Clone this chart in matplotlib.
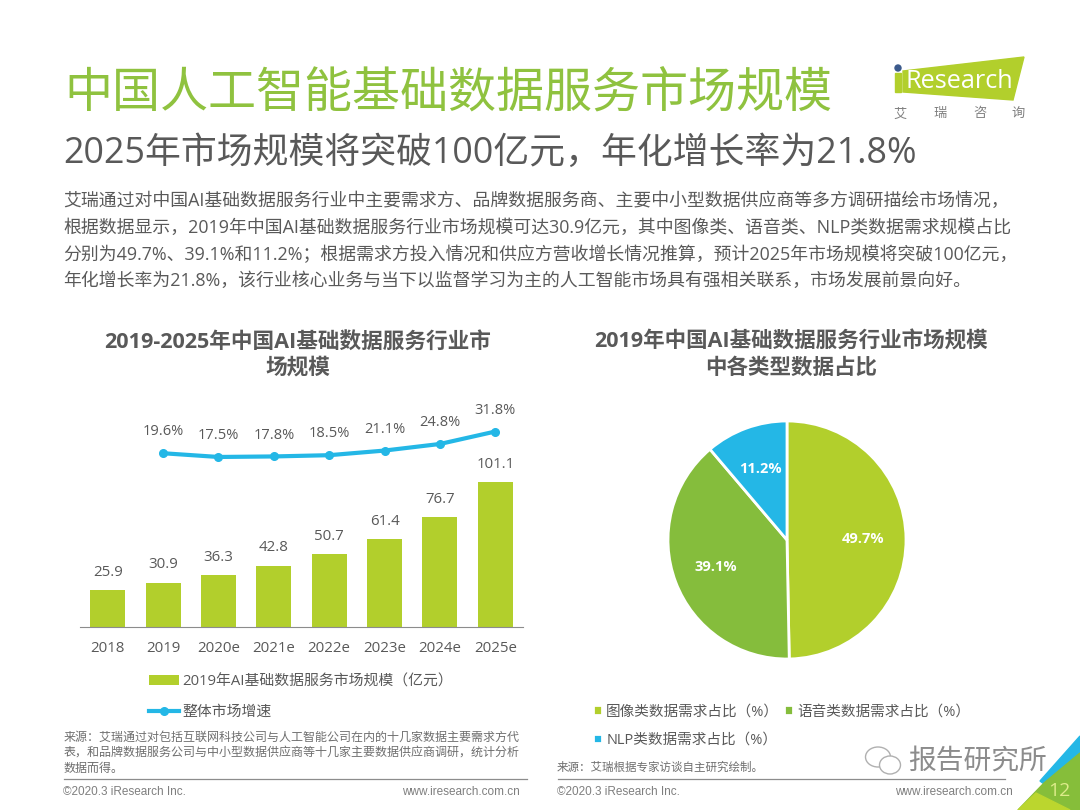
import matplotlib
matplotlib.use('Agg')
import matplotlib.pyplot as plt
from matplotlib.patches import Polygon, Ellipse, Rectangle

plt.rcParams['font.family'] = ['Open Sans', 'Noto Sans CJK SC', 'DejaVu Sans']

W, H = 1080, 810

# --- Data ---
years = ['2018', '2019', '2020e', '2021e', '2022e', '2023e', '2024e', '2025e']
market_size = [25.9, 30.9, 36.3, 42.8, 50.7, 61.4, 76.7, 101.1]
growth_years = years[1:]
growth_rate = [19.6, 17.5, 17.8, 18.5, 21.1, 24.8, 31.8]

share_labels = ['图像类数据需求占比（%）', '语音类数据需求占比（%）', 'NLP类数据需求占比（%）']
share_values = [49.7, 39.1, 11.2]

title = '中国人工智能基础数据服务市场规模'
subtitle = '2025年市场规模将突破100亿元，年化增长率为21.8%'
body_lines = [
    '艾瑞通过对中国AI基础数据服务行业中主要需求方、品牌数据服务商、主要中小型数据供应商等多方调研描绘市场情况，',
    '根据数据显示，2019年中国AI基础数据服务行业市场规模可达30.9亿元，其中图像类、语音类、NLP类数据需求规模占比',
    '分别为49.7%、39.1%和11.2%；根据需求方投入情况和供应方营收增长情况推算，预计2025年市场规模将突破100亿元，',
    '年化增长率为21.8%，该行业核心业务与当下以监督学习为主的人工智能市场具有强相关联系，市场发展前景向好。',
]
source_left = [
    '来源：艾瑞通过对包括互联网科技公司与人工智能公司在内的十几家数据主要需求方代',
    '表，和品牌数据服务公司与中小型数据供应商等十几家主要数据供应商调研，统计分析',
    '数据而得。',
]
source_right = '来源：艾瑞根据专家访谈自主研究绘制。'

GREEN = '#B2CF2C'
TITLE_GREEN = '#8FC23F'
DARK_GREEN = '#85BD3C'
BLUE = '#24B7E6'
TEXT = '#595959'
FOOT = ['Liberation Sans', 'Noto Sans CJK SC']


def px_axes(fig, left, top, right, bottom):
    # axes placed by pixel box, y measured from the top of the picture
    return fig.add_axes([left / W, 1 - bottom / H, (right - left) / W, (bottom - top) / H])


fig = plt.figure(figsize=(W / 100, H / 100), dpi=100, facecolor='white')

# page layer in pixel coordinates
page = fig.add_axes([0, 0, 1, 1])
page.set_xlim(0, W)
page.set_ylim(H, 0)
page.axis('off')

page.text(64, 95, title, fontsize=34.6, color=TITLE_GREEN, va='center', ha='left')
page.text(63, 154, subtitle, fontsize=25.8, color=TEXT, va='center', ha='left')
for line, y in zip(body_lines, [201, 228, 255, 281]):
    page.text(63, y, line, fontsize=12.85, color=TEXT, va='center', ha='left')

page.text(298, 342, '2019-2025年中国AI基础数据服务行业市', fontsize=15.6, fontweight='bold', color=TEXT, ha='center', va='center')
page.text(298, 368, '场规模', fontsize=15.6, fontweight='bold', color=TEXT, ha='center', va='center')
page.text(791, 342, '2019年中国AI基础数据服务行业市场规模', fontsize=15.5, fontweight='bold', color=TEXT, ha='center', va='center')
page.text(791, 368, '中各类型数据占比', fontsize=15.5, fontweight='bold', color=TEXT, ha='center', va='center')

# logo
page.add_patch(Polygon([(903, 71), (1024, 57), (1013, 100), (903, 92)], color=GREEN, zorder=2))
page.add_patch(Rectangle((895, 73), 6, 19, color=GREEN, zorder=2))
page.add_patch(Ellipse((898, 68), 6, 6, color='#3B5A8C', zorder=3))
page.text(905, 81, 'Research', fontsize=18.2, color='white', va='center', ha='left', zorder=3)
for ch, x in zip('艾瑞咨询', [900, 940, 980, 1018]):
    page.text(x, 114, ch, fontsize=9.5, color='#808080', ha='center', va='center')

# footer
page.plot([64, 527], [779, 779], color='#8C8C8C', lw=0.9)
page.plot([558, 1005], [779, 779], color='#8C8C8C', lw=0.9)
for line, y in zip(source_left, [737, 752, 768]):
    page.text(64, y, line, fontsize=8.65, color='#6E6E6E', ha='left', va='center')
page.text(557, 767, source_right, fontsize=8.3, color='#6E6E6E', ha='left', va='center')
for x, ha, s in [(63, 'left', '©2020.3 iResearch Inc.'), (520, 'right', 'www.iresearch.com.cn'),
                 (557, 'left', '©2020.3 iResearch Inc.'), (1013, 'right', 'www.iresearch.com.cn')]:
    page.text(x, 792, s, fontsize=8.5, family=FOOT, color='#7F7F7F', ha=ha, va='center')

# corner decoration and page number
page.add_patch(Polygon([(1080, 736), (1080, 754), (1044, 784), (1040, 781)], color=BLUE, zorder=2))
page.add_patch(Polygon([(1080, 753), (1080, 810), (1018, 810), (1044, 783)], color='#86BE3A', zorder=2))
page.add_patch(Polygon([(1018, 810), (1036, 793), (1070, 810)], color='#BBD62E', zorder=2))
page.text(1059, 791, '12', fontsize=14, color='#DDEB8A', ha='center', va='center', zorder=3)

# watermark
page.add_patch(Ellipse((878, 757), 25, 20, fill=False, ec='#B0B0B0', lw=1))
page.add_patch(Ellipse((890, 765), 21, 18, facecolor='white', ec='#B0B0B0', lw=1))
page.text(978, 762, '报告研究所', fontsize=20, color='#8C8C8C', ha='center', va='center')

# --- Bar and line chart ---
ax = px_axes(fig, 80, 400, 523, 627)
ax.patch.set_alpha(0)
bars = ax.bar(years, market_size, width=0.63, color=GREEN, label='2019年AI基础数据服务市场规模（亿元）')
ax.set_xlim(-0.5, 7.5)
ax.set_ylim(0, 158.7)
ax.set_yticks([])
for side in ['top', 'left', 'right']:
    ax.spines[side].set_visible(False)
ax.spines['bottom'].set_color('#8C8C8C')
ax.tick_params(axis='x', length=0, labelsize=10.8, labelcolor=TEXT, pad=10)
ax.bar_label(bars, labels=[f'{v:.1f}' for v in market_size], padding=7.5, fontsize=10.8, color=TEXT)

ax2 = ax.twinx()
ax2.set_ylim(-78, 49.5)
ax2.axis('off')
growth_line, = ax2.plot(growth_years, growth_rate, color=BLUE, lw=3, marker='o', markersize=5.5,
                        label='整体市场增速')
for x, v in zip(growth_years, growth_rate):
    ax2.annotate(f'{v:.1f}%', (x, v), xytext=(0, 10), textcoords='offset points', ha='center', va='bottom',
                 fontsize=10.5, color=TEXT)

fig.legend(handles=[bars, growth_line], labels=[bars.get_label(), growth_line.get_label()],
           loc='upper left', bbox_to_anchor=(136 / W, 1 - 661 / H), frameon=False, fontsize=10.7,
           labelcolor=TEXT, handlelength=2.0, handletextpad=0.2, labelspacing=1.05)

# --- Pie chart ---
ax3 = px_axes(fig, 660, 413, 914, 667)
wedges, _, pct_texts = ax3.pie(share_values, colors=[GREEN, DARK_GREEN, BLUE], startangle=90, counterclock=False,
                               radius=119 / 127, autopct=lambda p: f'{p:.1f}%', pctdistance=0.64,
                               wedgeprops={'edgecolor': 'white', 'linewidth': 2},
                               textprops={'color': 'white', 'fontsize': 10.5, 'fontweight': 'bold'})
ax3.set_xlim(-1, 1)
ax3.set_ylim(-1, 1)

fig.legend(handles=[wedges[0], wedges[2], wedges[1]],
           labels=[share_labels[0], share_labels[2], share_labels[1]],
           loc='upper left', bbox_to_anchor=(580 / W, 1 - 691 / H), ncol=2, frameon=False, fontsize=10.5,
           labelcolor=TEXT, handlelength=0.6, handleheight=0.6, handletextpad=0.3,
           labelspacing=0.95, columnspacing=0.35)

plt.savefig('out.png', dpi=100)
plt.close()
